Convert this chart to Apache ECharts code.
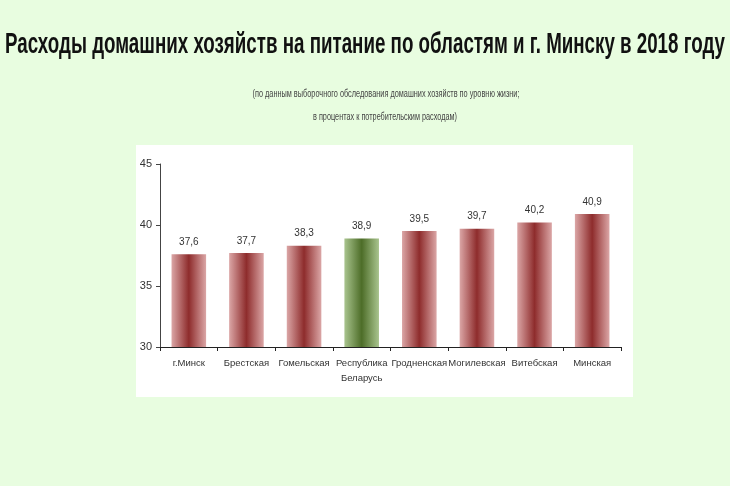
<!DOCTYPE html>
<html><head><meta charset="utf-8">
<script src="https://cdn.jsdelivr.net/npm/echarts@6/dist/echarts.min.js"></script>
<style>html,body{margin:0;padding:0;background:#e8fde0;}#c{width:730px;height:486px;}</style>
</head><body><div id="c"></div>
<script>
const title = 'Расходы домашних хозяйств на питание по областям и г. Минску в 2018 году';
const subtitle1 = '(по данным выборочного обследования домашних хозяйств по уровню жизни;';
const subtitle2 = 'в процентах к потребительским расходам)';
const categories = ['г.Минск', 'Брестская', 'Гомельская', 'Республика\nБеларусь', 'Гродненская', 'Могилевская', 'Витебская', 'Минская'];
const values = [37.6, 37.7, 38.3, 38.9, 39.5, 39.7, 40.2, 40.9];
const highlightIndex = 3;
const yTicks = [30, 35, 40, 45];

const redGrad = new echarts.graphic.LinearGradient(0,0,1,0,[
  {offset:0,color:'#dba6a6'},{offset:0.5,color:'#8e2c2c'},{offset:1,color:'#dba6a6'}]);
const greenGrad = new echarts.graphic.LinearGradient(0,0,1,0,[
  {offset:0,color:'#a9c48e'},{offset:0.5,color:'#4d6d28'},{offset:1,color:'#a9c48e'}]);

const fam = '"Liberation Sans", Arial, sans-serif';
const ctx = document.createElement('canvas').getContext('2d');
function fitText(text, font, targetW, x, y, fill) {
  ctx.font = font;
  const w = ctx.measureText(text).width;
  return {type:'text', x:x, y:y, scaleX: targetW / w, z: 10,
    style:{text:text, font:font, fill:fill, textAlign:'center', textVerticalAlign:'middle'}};
}

const chart = echarts.init(document.getElementById('c'));
chart.setOption({
  backgroundColor: '#e8fde0',
  animation: false,
  graphic: [
    {type:'rect', left:136, top:145, shape:{width:497, height:252}, style:{fill:'#ffffff'}, z:-1},
    fitText(title, 'bold 29px ' + fam, 720, 365, 45, '#111'),
    fitText(subtitle1, '10px ' + fam, 267, 386, 94, '#444'),
    fitText(subtitle2, '10px ' + fam, 144, 385, 117, '#444')
  ],
  grid: {left:160, top:164, right:109, bottom:139},
  xAxis: {
    type:'category', data: categories,
    axisLine:{lineStyle:{color:'#222', width:1}},
    axisTick:{show:true, length:4, lineStyle:{color:'#222'}},
    axisLabel:{interval:0, fontFamily:fam, fontSize:9.5, color:'#333', margin:9, lineHeight:15}
  },
  yAxis: {
    type:'value', min: yTicks[0], max: yTicks[yTicks.length-1], interval: 5,
    axisLine:{show:true, lineStyle:{color:'#444'}},
    axisTick:{show:true, length:4, lineStyle:{color:'#444'}},
    splitLine:{show:false},
    axisLabel:{fontFamily:fam, fontSize:11, color:'#333', margin:8}
  },
  series: [{
    type:'bar', barWidth:'60%',
    data: values.map((v,i)=>({value:v, itemStyle:{color: i===highlightIndex ? greenGrad : redGrad}})),
    label:{show:true, position:'top', distance:7, fontFamily:fam, fontSize:10, color:'#333',
      formatter: p => String(p.value).replace('.', ',')}
  }]
});
</script></body></html>
